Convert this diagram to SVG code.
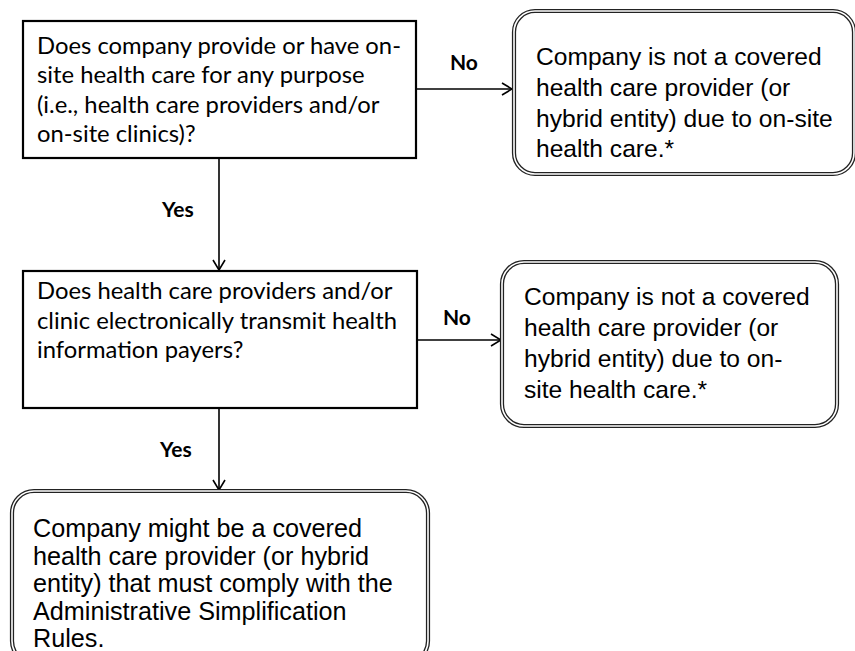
<svg xmlns="http://www.w3.org/2000/svg" width="855" height="651" viewBox="0 0 855 651">
  <style>
    .q { font-family: Lato, "Open Sans", "Liberation Sans", sans-serif; font-size: 23.8px; fill: #000; }
    .a { font-family: "Liberation Sans", Arial, sans-serif; font-size: 24.6px; fill: #000; }
    .a-lg { font-size: 25.2px; }
    .lbl { font-family: Lato, "Liberation Sans", sans-serif; font-size: 21px; font-weight: bold; fill: #000; }
    .box { fill: #fff; stroke: #000; stroke-width: 2.2; }
    .dbl-out { fill: #fff; stroke: #222; stroke-width: 4.2; }
    .dbl-in { fill: none; stroke: #fff; stroke-width: 1.6; }
    .edge { fill: none; stroke: #000; stroke-width: 1.6; }
  </style>
  <defs>
    <marker id="arrow" viewBox="0 0 12 14" refX="11" refY="7" markerWidth="12" markerHeight="14" markerUnits="userSpaceOnUse" orient="auto">
      <path d="M1,1 L11,7 L1,13" fill="none" stroke="#000" stroke-width="1.6"/>
    </marker>
  </defs>
  <rect width="855" height="651" fill="#fff"/>

  <g id="connectors">
    <line class="edge" x1="416" y1="89" x2="512" y2="89" marker-end="url(#arrow)"/>
    <line class="edge" x1="219" y1="158" x2="219" y2="270" marker-end="url(#arrow)"/>
    <line class="edge" x1="417" y1="340" x2="501" y2="340" marker-end="url(#arrow)"/>
    <line class="edge" x1="219" y1="408" x2="219" y2="490" marker-end="url(#arrow)"/>
    <text class="lbl" x="450" y="70">No</text>
    <text class="lbl" x="162" y="217">Yes</text>
    <text class="lbl" x="443" y="325">No</text>
    <text class="lbl" x="160" y="457">Yes</text>
  </g>

  <g id="q1">
    <rect class="box" x="23" y="21" width="393" height="137"/>
    <text class="q" x="37" y="54">Does company provide or have on-</text>
    <text class="q" x="37" y="83">site health care for any purpose</text>
    <text class="q" x="37" y="113">(i.e., health care providers and/or</text>
    <text class="q" x="37" y="142">on-site clinics)?</text>
  </g>

  <g id="out1">
    <rect class="dbl-out" x="514" y="11" width="340" height="163" rx="21"/>
    <rect class="dbl-in" x="514" y="11" width="340" height="163" rx="21"/>
    <text class="a" x="536" y="65">Company is not a covered</text>
    <text class="a" x="536" y="96">health care provider (or</text>
    <text class="a" x="536" y="127">hybrid entity) due to on-site</text>
    <text class="a" x="536" y="157">health care.*</text>
  </g>

  <g id="q2">
    <rect class="box" x="23" y="271" width="394" height="137"/>
    <text class="q" x="37" y="299">Does health care providers and/or</text>
    <text class="q" x="37" y="329">clinic electronically transmit health</text>
    <text class="q" x="37" y="358">information payers?</text>
  </g>

  <g id="out2">
    <rect class="dbl-out" x="502" y="262" width="335" height="164" rx="22"/>
    <rect class="dbl-in" x="502" y="262" width="335" height="164" rx="22"/>
    <text class="a" x="524" y="305">Company is not a covered</text>
    <text class="a" x="524" y="336">health care provider (or</text>
    <text class="a" x="524" y="367">hybrid entity) due to on-</text>
    <text class="a" x="524" y="398">site health care.*</text>
  </g>

  <g id="result">
    <rect class="dbl-out" x="12" y="491" width="416" height="172" rx="22"/>
    <rect class="dbl-in" x="12" y="491" width="416" height="172" rx="22"/>
    <text class="a a-lg" x="33" y="537">Company might be a covered</text>
    <text class="a a-lg" x="33" y="565">health care provider (or hybrid</text>
    <text class="a a-lg" x="33" y="592">entity) that must comply with the</text>
    <text class="a a-lg" x="33" y="620">Administrative Simplification</text>
    <text class="a a-lg" x="33" y="647">Rules.</text>
  </g>
</svg>
